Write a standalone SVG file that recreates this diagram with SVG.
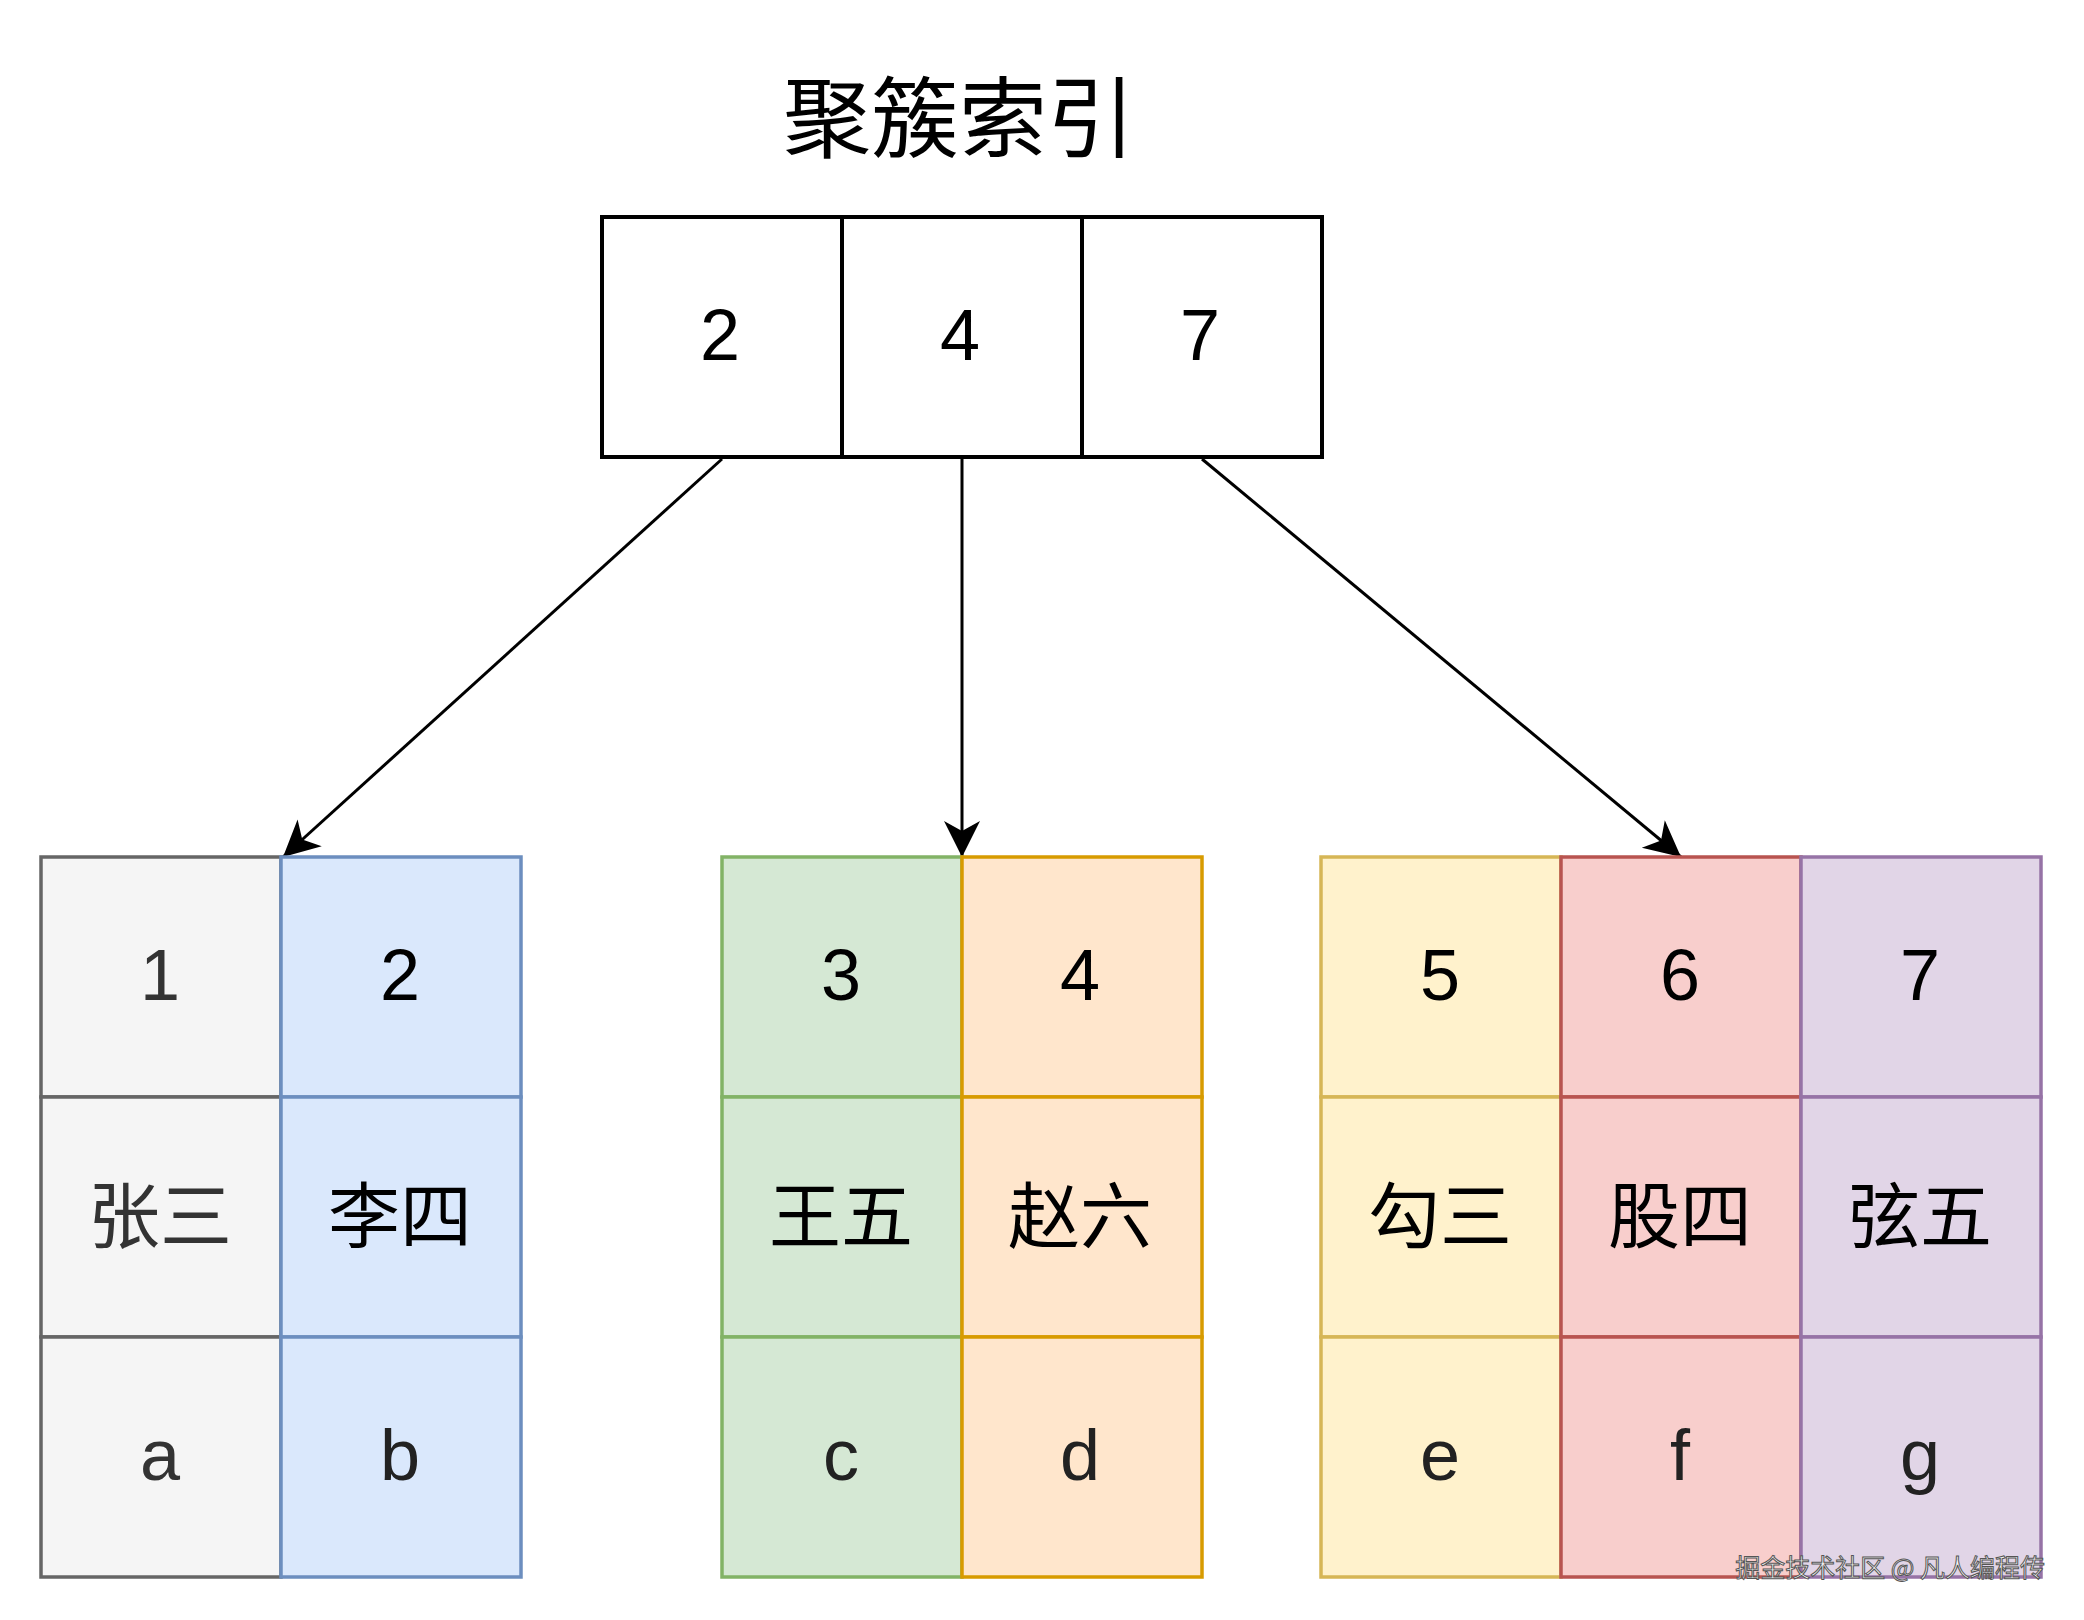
<svg xmlns="http://www.w3.org/2000/svg" width="2084" height="1620" viewBox="0 0 2084 1620">
<defs>
<style>
.lat{font-family:"Liberation Sans",Arial,sans-serif;font-size:72px;text-anchor:middle}
.cjk{font-family:"Noto Sans CJK SC",sans-serif;font-size:72px;text-anchor:middle}
.c{stroke-width:3.5}
.gray{fill:#f5f5f5;stroke:#666666}
.blue{fill:#dae8fc;stroke:#6c8ebf}
.green{fill:#d5e8d4;stroke:#82b366}
.orange{fill:#ffe6cc;stroke:#d79b00}
.yellow{fill:#fff2cc;stroke:#d6b656}
.red{fill:#f8cecc;stroke:#b85450}
.purple{fill:#e1d5e7;stroke:#9673a6}
.top{fill:#ffffff;stroke:#000000;stroke-width:4}
.conn{fill:none;stroke:#000000;stroke-width:3}
</style>
<marker id="arr" markerUnits="userSpaceOnUse" viewBox="-37 -19 38 38" markerWidth="38" markerHeight="38" refX="0" refY="0" orient="auto">
<path d="M0,0 L-36,-18 L-26,0 L-36,18 Z" fill="#000000"/>
</marker>
</defs>
<rect width="2084" height="1620" fill="#ffffff"/>
<text x="959" y="150" font-family="'Noto Sans CJK SC',sans-serif" font-size="88" text-anchor="middle" fill="#000000">聚簇索引</text>
<g id="index">
<rect class="top" x="602" y="217" width="240" height="240"/>
<rect class="top" x="842" y="217" width="240" height="240"/>
<rect class="top" x="1082" y="217" width="240" height="240"/>
<text class="lat" x="720" y="360">2</text>
<text class="lat" x="960" y="360">4</text>
<text class="lat" x="1200" y="360">7</text>
</g>
<g id="connectors">
<line class="conn" x1="722" y1="459" x2="283" y2="857" marker-end="url(#arr)"/>
<line class="conn" x1="962" y1="459" x2="962" y2="857" marker-end="url(#arr)"/>
<line class="conn" x1="1202" y1="459" x2="1681" y2="857" marker-end="url(#arr)"/>
</g>
<g id="col1">
<rect class="c gray" x="41" y="857" width="240" height="240"/>
<rect class="c gray" x="41" y="1097" width="240" height="240"/>
<rect class="c gray" x="41" y="1337" width="240" height="240"/>
<text class="lat" x="160" y="1000" fill="#333333">1</text>
<text class="cjk" x="160" y="1242" fill="#333333">张三</text>
<text class="lat" x="160" y="1480" fill="#333333">a</text>
</g>
<g id="col2">
<rect class="c blue" x="281" y="857" width="240" height="240"/>
<rect class="c blue" x="281" y="1097" width="240" height="240"/>
<rect class="c blue" x="281" y="1337" width="240" height="240"/>
<text class="lat" x="400" y="1000">2</text>
<text class="cjk" x="400" y="1242">李四</text>
<text class="lat" x="400" y="1480" fill="#222222">b</text>
</g>
<g id="col3">
<rect class="c green" x="722" y="857" width="240" height="240"/>
<rect class="c green" x="722" y="1097" width="240" height="240"/>
<rect class="c green" x="722" y="1337" width="240" height="240"/>
<text class="lat" x="841" y="1000">3</text>
<text class="cjk" x="841" y="1242">王五</text>
<text class="lat" x="841" y="1480" fill="#222222">c</text>
</g>
<g id="col4">
<rect class="c orange" x="962" y="857" width="240" height="240"/>
<rect class="c orange" x="962" y="1097" width="240" height="240"/>
<rect class="c orange" x="962" y="1337" width="240" height="240"/>
<text class="lat" x="1080" y="1000">4</text>
<text class="cjk" x="1080" y="1242">赵六</text>
<text class="lat" x="1080" y="1480" fill="#222222">d</text>
</g>
<g id="col5">
<rect class="c yellow" x="1321" y="857" width="240" height="240"/>
<rect class="c yellow" x="1321" y="1097" width="240" height="240"/>
<rect class="c yellow" x="1321" y="1337" width="240" height="240"/>
<text class="lat" x="1440" y="1000">5</text>
<text class="cjk" x="1440" y="1242">勾三</text>
<text class="lat" x="1440" y="1480" fill="#222222">e</text>
</g>
<g id="col6">
<rect class="c red" x="1561" y="857" width="240" height="240"/>
<rect class="c red" x="1561" y="1097" width="240" height="240"/>
<rect class="c red" x="1561" y="1337" width="240" height="240"/>
<text class="lat" x="1680" y="1000">6</text>
<text class="cjk" x="1680" y="1242">股四</text>
<text class="lat" x="1680" y="1480" fill="#222222">f</text>
</g>
<g id="col7">
<rect class="c purple" x="1801" y="857" width="240" height="240"/>
<rect class="c purple" x="1801" y="1097" width="240" height="240"/>
<rect class="c purple" x="1801" y="1337" width="240" height="240"/>
<text class="lat" x="1920" y="1000">7</text>
<text class="cjk" x="1920" y="1242">弦五</text>
<text class="lat" x="1920" y="1480" fill="#222222">g</text>
</g>
<text x="2045" y="1577" font-family="'Noto Sans CJK SC',sans-serif" font-size="25" text-anchor="end" fill="#f4f4f4" stroke="#555555" stroke-width="1">掘金技术社区 @ 凡人编程传</text>
</svg>
